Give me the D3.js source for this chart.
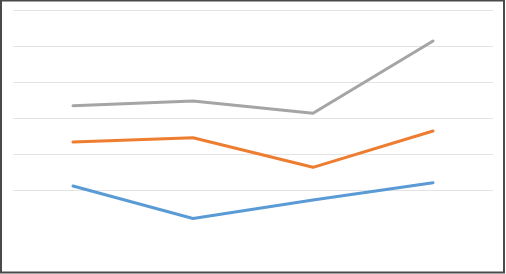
<!DOCTYPE html>
<html>
<head>
<meta charset="utf-8">
<script src="https://cdn.jsdelivr.net/npm/d3@7"></script>
<style>
html,body{margin:0;padding:0;background:#fff;}
svg{display:block;}
</style>
</head>
<body>
<svg id="chart" width="506" height="274"></svg>
<script>
const categories = ["1", "2", "3", "4"];
const seriesNames = ["Series 1", "Series 2", "Series 3"];
const series1 = [2.11, 1.21, 1.72, 2.20];
const series2 = [3.33, 3.45, 2.63, 3.64];
const series3 = [4.34, 4.47, 4.13, 6.14];
const yTicks = [2, 3, 4, 5, 6, 7];
const colors = ["#5B9BD5", "#ED7D31", "#A5A5A5"];

const svg = d3.select("#chart");
const W = 506, H = 274;
const plot = {left: 13, right: 493, top: 10, bottom: 262};

const x = d3.scaleBand().domain(categories).range([plot.left, plot.right]);
const y = d3.scaleLinear().domain([0, 7]).range([plot.bottom, plot.top]);

svg.append("rect").attr("width", W).attr("height", H).attr("fill", "#fff");

// gridlines
const grid = svg.append("g")
  .attr("transform", `translate(${plot.left},0)`)
  .call(d3.axisLeft(y).tickValues(yTicks).tickSize(-(plot.right - plot.left)).tickFormat(""));
grid.select(".domain").remove();
grid.selectAll(".tick line").attr("stroke", "#e3e3e3").attr("stroke-width", 1.2);

const line = d3.line()
  .x((d, i) => x(categories[i]) + x.bandwidth() / 2)
  .y(d => y(d));

[series1, series2, series3].forEach((s, k) => {
  svg.append("path")
    .datum(s)
    .attr("fill", "none")
    .attr("stroke", colors[k])
    .attr("stroke-width", 3)
    .attr("stroke-linejoin", "round")
    .attr("stroke-linecap", "round")
    .attr("d", line);
});

// outer frame
svg.append("rect")
  .attr("x", 1).attr("y", 0.5)
  .attr("width", 503).attr("height", 272)
  .attr("fill", "none")
  .attr("stroke", "#4a4a4a")
  .attr("stroke-width", 2);
</script>
</body>
</html>
